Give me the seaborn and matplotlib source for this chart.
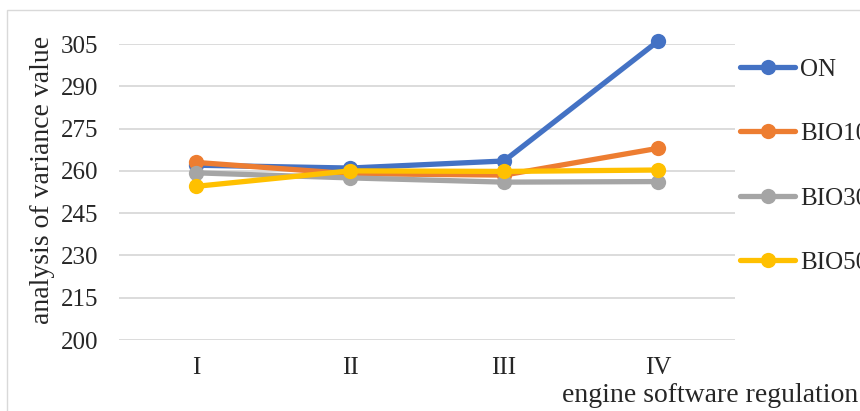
import matplotlib
matplotlib.use("Agg")
import matplotlib.pyplot as plt
from matplotlib.patches import Rectangle
import pandas as pd
import seaborn as sns

# Data
stages = ["I", "II", "III", "IV"]
series_names = ["ON", "BIO10", "BIO30", "BIO50"]
on_vals = [262.0, 261.0, 263.5, 306.0]
bio10_vals = [263.0, 259.0, 258.5, 268.0]
bio30_vals = [259.3, 257.5, 256.0, 256.2]
bio50_vals = [254.5, 260.0, 259.8, 260.3]
y_ticks = [200, 215, 230, 245, 260, 275, 290, 305]

colors = ["#4472C4", "#ED7D31", "#A5A5A5", "#FFC000"]

rows = []
for name, vals in zip(series_names, [on_vals, bio10_vals, bio30_vals, bio50_vals]):
    for st, v in zip(stages, vals):
        rows.append({"stage": st, "value": v, "series": name})
df = pd.DataFrame(rows)

sns.set_style("white")
plt.rcParams["font.family"] = ["Liberation Serif", "DejaVu Serif"]

W, H = 860, 411
fig = plt.figure(figsize=(W / 100, H / 100), dpi=100)
ax = fig.add_axes([119 / W, 1 - 340 / H, (735 - 119) / W, (340 - 44) / H])

# chart-area frame (extends past the right and bottom edges)
fig.patches.append(Rectangle((7 / W, -0.2), 1.5, 1.2 - 10 / H,
                             transform=fig.transFigure, fill=False,
                             edgecolor="#D9D9D9", linewidth=1.0))

sns.lineplot(data=df, x="stage", y="value", hue="series",
             hue_order=series_names, palette=colors, marker="o",
             markersize=11, markeredgewidth=0, linewidth=3.8,
             sort=False, ax=ax, clip_on=False)

ax.set_ylim(200, 305)
ax.set_xlim(-0.5, 3.5)
ax.set_yticks(y_ticks)
ax.yaxis.grid(True, color="#D9D9D9", linewidth=1.3)
ax.set_axisbelow(True)
for s in ax.spines.values():
    s.set_visible(False)
ax.tick_params(axis="y", length=0, pad=15, labelsize=18)
ax.tick_params(axis="x", length=0, pad=12, labelsize=18)

ax.set_ylabel("analysis of variance value", fontsize=20)
ax.yaxis.set_label_coords(-0.104, 0.54)
ax.set_xlabel("engine software regulation", fontsize=20, ha="right")
ax.xaxis.set_label_coords(1.2, -0.145)

handles, labels = ax.get_legend_handles_labels()
ax.get_legend().remove()
fig.legend(handles, labels, loc="upper left",
           bbox_to_anchor=(740 / W, 1 - 58 / H), frameon=False,
           fontsize=18, handlelength=2.2, handletextpad=0.2,
           labelspacing=1.68, borderpad=0, borderaxespad=0)

fig.savefig("out.png", dpi=100)
